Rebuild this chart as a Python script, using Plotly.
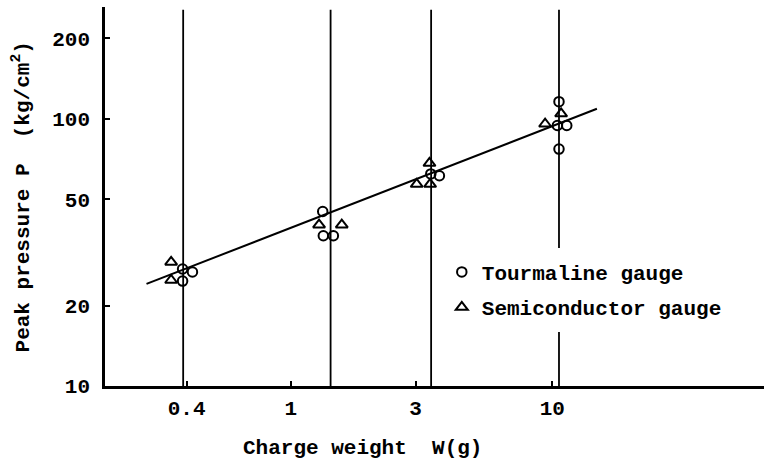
import plotly.graph_objects as go
import math

# Data (log-log chart)
tourmaline_w = [0.386, 0.421, 0.386, 1.325, 1.332, 1.455, 3.43, 3.70, 10.6, 10.45, 11.35, 10.6]
tourmaline_p = [27.4, 26.7, 24.7, 45.0, 36.5, 36.5, 62.2, 61.2, 115.9, 94.4, 94.4, 77.0]

semi_w = [0.349, 0.349, 1.283, 1.567, 3.39, 3.03, 3.41, 10.8, 9.38]
semi_p = [29.1, 24.9, 40.1, 40.1, 68.2, 56.9, 56.9, 104.5, 95.7]

fit_w = [0.281, 14.8]
fit_p = [24.1, 109.0]

charge_lines = [0.388, 1.42, 3.44, 10.6]

x_ticks = [0.4, 1, 3, 10]
x_ticklabels = ["0.4", "1", "3", "10"]
y_ticks = [10, 20, 50, 100, 200]
y_ticklabels = ["10", "20", "50", "100", "200"]

x_range = [0.195, 64.4]
y_range = [10, 262]

FONT = "Liberation Mono"
FS = 21


def f(size=FS):
    return dict(family=FONT, size=size, color="black", weight="bold")


fig = go.Figure()

for w in charge_lines:
    fig.add_trace(go.Scatter(x=[w, w], y=[y_range[0], 256], mode="lines",
                             line=dict(color="black", width=1.8), showlegend=False,
                             hoverinfo="skip"))

fig.add_trace(go.Scatter(x=fit_w, y=fit_p, mode="lines",
                         line=dict(color="black", width=2), showlegend=False))

fig.add_trace(go.Scatter(x=tourmaline_w, y=tourmaline_p, mode="markers",
                         name="Tourmaline gauge", legendgroup="a",
                         marker=dict(symbol="circle-open", size=9.5, color="black",
                                     line=dict(width=2, color="black"))))
fig.add_trace(go.Scatter(x=semi_w, y=semi_p, mode="markers",
                         name="Semiconductor gauge", legendgroup="b",
                         marker=dict(symbol="triangle-up-open", size=10.5, color="black",
                                     line=dict(width=2, color="black"))))

fig.update_layout(
    width=764, height=465,
    margin=dict(l=105, r=0, t=7, b=79),
    paper_bgcolor="white", plot_bgcolor="white",
    font=f(),
    showlegend=True,
    legend=dict(x=0.505, y=0.254, xanchor="left", yanchor="middle",
                bgcolor="white", bordercolor="white", borderwidth=4,
                tracegroupgap=5, font=f(), traceorder="grouped"),
    xaxis=dict(type="log", range=[math.log10(x_range[0]), math.log10(x_range[1])],
               tickvals=x_ticks, ticktext=x_ticklabels, ticks="inside", ticklen=5,
               tickwidth=1.5, tickcolor="black", showgrid=False, zeroline=False,
               showline=True, linecolor="black", linewidth=2.5,
               ticklabelstandoff=1, tickfont=f()),
    yaxis=dict(type="log", range=[math.log10(y_range[0]), math.log10(y_range[1])],
               tickvals=y_ticks, ticktext=y_ticklabels, ticks="inside", ticklen=5,
               tickwidth=1.5, tickcolor="black", showgrid=False, zeroline=False,
               showline=True, linecolor="black", linewidth=2.5,
               ticklabelstandoff=8, tickfont=f()),
    annotations=[
        dict(text="Charge weight&nbsp;&nbsp;W(g)", xref="paper", yref="paper",
             x=0.39, y=-0.164, xanchor="center", yanchor="middle", showarrow=False,
             font=f()),
        dict(text="Peak pressure P&nbsp;&nbsp;(kg/cm<sup>2</sup>)", xref="paper", yref="paper",
             x=-0.126, y=0.5, xanchor="center", yanchor="middle", textangle=-90,
             showarrow=False, font=f()),
    ],
)

fig.write_html("out.html")
